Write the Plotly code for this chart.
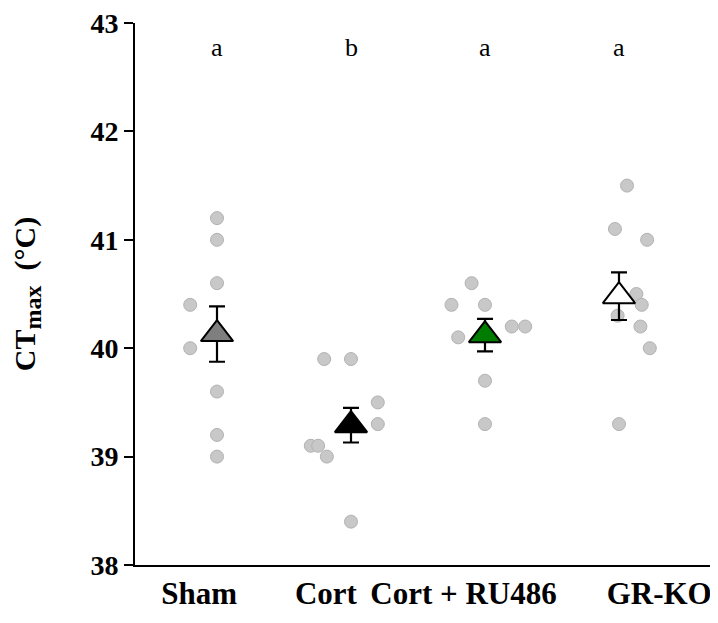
import plotly.graph_objects as go

categories = ["Sham", "Cort", "Cort + RU486", "GR-KO"]
letters = ["a", "b", "a", "a"]

sham_vals = [41.2, 41.0, 40.6, 40.4, 40.0, 39.6, 39.2, 39.0]
sham_jit = [0.0, 0.0, 0.0, -0.2, -0.2, 0.0, 0.0, 0.0]
cort_vals = [39.9, 39.9, 39.5, 39.3, 39.1, 39.1, 39.0, 38.4]
cort_jit = [-0.2, 0.0, 0.2, 0.2, -0.3, -0.245, -0.18, 0.0]
ru_vals = [40.6, 40.4, 40.4, 40.2, 40.2, 40.1, 39.7, 39.3]
ru_jit = [-0.1, -0.25, 0.0, 0.2, 0.3, -0.2, 0.0, 0.0]
grko_vals = [41.5, 41.1, 41.0, 40.5, 40.4, 40.3, 40.2, 40.0, 39.3]
grko_jit = [0.06, -0.03, 0.21, 0.13, 0.17, -0.01, 0.16, 0.23, 0.0]

means = [40.13, 39.29, 40.12, 40.48]
sems = [0.255, 0.16, 0.15, 0.22]
mean_colors = ["#7f7f7f", "#000000", "#007d00", "#ffffff"]

# layout: where the category labels sit along the x axis (category units)
label_pos = [-0.134, 0.813, 1.84, 3.30]

groups = [(sham_vals, sham_jit), (cort_vals, cort_jit), (ru_vals, ru_jit), (grko_vals, grko_jit)]

FONT = "Liberation Serif"
fig = go.Figure()

for i, (vals, jit) in enumerate(groups):
    fig.add_trace(go.Scatter(
        x=[i + j for j in jit], y=vals, mode="markers",
        marker=dict(size=13, color="#c8c8c8", line=dict(color="#b2b2b2", width=1)),
        showlegend=False, hoverinfo="y"))

for i in range(len(categories)):
    fig.add_trace(go.Scatter(
        x=[i], y=[means[i]], mode="markers",
        marker=dict(symbol="triangle-up", size=28, color=mean_colors[i],
                    line=dict(color="#000000", width=2)),
        error_y=dict(type="data", array=[sems[i]], visible=True,
                     color="#000000", thickness=2.2, width=8),
        showlegend=False, hoverinfo="y"))

for i, t in enumerate(letters):
    fig.add_annotation(x=i, y=42.77, text=t, showarrow=False,
                       xanchor="center", yanchor="middle",
                       font=dict(family=FONT, size=26, color="#000000"))

fig.add_annotation(xref="paper", yref="paper", x=-0.185, y=0.5,
                   text="CT<sub><span style='font-size:24px'>max</span></sub>&nbsp;&nbsp;(°C)",
                   textangle=-90, showarrow=False, xanchor="center", yanchor="middle",
                   font=dict(family=FONT, size=30, weight="bold", color="#000000"))

fig.update_layout(
    width=710, height=615,
    margin=dict(l=127, r=0, t=15, b=58),
    paper_bgcolor="white", plot_bgcolor="white",
    font=dict(family=FONT, color="#000000"),
    xaxis=dict(range=[-0.612, 3.739], tickvals=label_pos, ticktext=categories,
               tickangle=0, automargin=False, ticklabeloverflow="allow",
               showline=True, linecolor="#000000", linewidth=2, ticks="",
               showgrid=False, zeroline=False,
               tickfont=dict(family=FONT, size=31, weight="bold", color="#000000")),
    yaxis=dict(range=[38, 43], tickvals=[38, 39, 40, 41, 42, 43], automargin=False,
               ticklabeloverflow="allow",
               showline=True, linecolor="#000000", linewidth=2,
               ticks="outside", ticklen=9, tickwidth=2, tickcolor="#000000",
               showgrid=False, zeroline=False,
               tickfont=dict(family=FONT, size=28, weight="bold", color="#000000")),
)

fig.write_html("out.html")
